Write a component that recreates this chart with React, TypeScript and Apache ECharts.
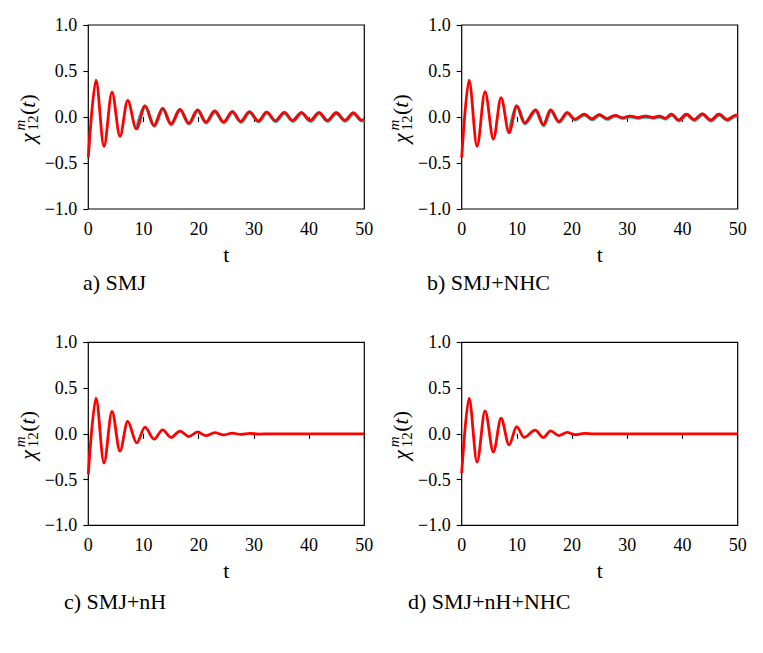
import React, { useEffect, useRef } from "react";
import * as echarts from "echarts";

// ---- data ----
const xTicks = [0, 10, 20, 30, 40, 50];
const yTicks = [-1, -0.5, 0, 0.5, 1];
const panelLabels = ["a) SMJ", "b) SMJ+NHC", "c) SMJ+nH", "d) SMJ+nH+NHC"];

// a) SMJ  (extrema of the curve)
const tA = [0, 1.39, 2.84, 4.29, 5.74, 7.13, 8.7, 10.27, 11.9, 13.47, 14.98, 16.6, 18.2, 19.8, 21.3, 22.9, 24.5, 26.1, 27.6, 29.2, 30.8, 32.3, 33.9, 35.5, 37.0, 38.6, 40.2, 41.8, 43.3, 44.9, 46.5, 48.0, 49.5, 50];
const yA = [-0.44, 0.4, -0.32, 0.27, -0.21, 0.18, -0.13, 0.12, -0.094, 0.094, -0.076, 0.083, -0.069, 0.076, -0.058, 0.065, -0.055, 0.058, -0.05, 0.055, -0.045, 0.052, -0.042, 0.05, -0.04, 0.048, -0.04, 0.048, -0.04, 0.046, -0.038, 0.045, -0.035, -0.028];

// b) SMJ+NHC
const tB = [0, 1.33, 2.78, 4.23, 5.74, 7.13, 8.57, 9.96, 11.4, 13.4, 14.8, 16.1, 17.6, 19.1, 20.5, 22.2, 23.6, 24.9, 26.3, 27.8, 29.1, 30.5, 31.9, 33.3, 34.7, 35.8, 36.9, 38.0, 39.3, 40.7, 42.1, 43.6, 45.1, 46.6, 48.1, 49.7, 50];
const yB = [-0.44, 0.4, -0.32, 0.275, -0.24, 0.21, -0.17, 0.12, -0.065, 0.076, -0.087, 0.076, -0.05, 0.047, -0.025, 0.03, -0.022, 0.025, -0.018, 0.018, -0.01, 0.01, -0.006, 0.008, -0.006, 0.008, -0.015, 0.03, -0.035, 0.03, -0.03, 0.035, -0.035, 0.03, -0.03, 0.02, 0.015];

// c) SMJ+nH
const tC = [0, 1.39, 2.84, 4.29, 5.74, 7.13, 8.76, 10.27, 11.9, 13.47, 14.98, 16.6, 18.2, 19.8, 21.3, 22.9, 24.5, 26.1, 27.6, 29.3, 30.8, 33.0, 50];
const yC = [-0.44, 0.39, -0.32, 0.245, -0.19, 0.135, -0.1, 0.073, -0.058, 0.042, -0.04, 0.03, -0.03, 0.02, -0.02, 0.012, -0.012, 0.008, -0.007, 0.004, -0.003, 0, 0];

// d) SMJ+nH+NHC
const tD = [0, 1.33, 2.78, 4.23, 5.74, 7.13, 8.57, 9.96, 11.3, 13.3, 14.8, 16.1, 17.6, 19.1, 20.5, 22.2, 24.0, 50];
const yD = [-0.43, 0.39, -0.31, 0.25, -0.2, 0.17, -0.12, 0.077, -0.04, 0.04, -0.04, 0.033, -0.02, 0.015, -0.01, 0.005, 0, 0];

const panelT = [tA, tB, tC, tD];
const panelY = [yA, yB, yC, yD];
const tealPanels = [0, 1];

const RED = "#ff0000";
const TEAL = "#19b5b5";
const SERIF = "Liberation Serif, DejaVu Serif, serif";

const gridBoxes = [
  { left: 88.3, top: 25, width: 276, height: 184 },
  { left: 461.7, top: 25, width: 276, height: 184 },
  { left: 88.3, top: 342.3, width: 276, height: 183 },
  { left: 461.7, top: 342.3, width: 276, height: 183 },
];

const labelPos = [
  [83, 282],
  [427, 282],
  [64, 601],
  [408, 601],
];

function fmtY(v: number) {
  const s = Math.abs(v).toFixed(1);
  return v < 0 ? "\u2212" + s : s;
}

function yLabel(cx: number, cy: number) {
  const base = { fill: "#000", fontFamily: SERIF, align: "left", textAlign: "left", verticalAlign: "middle", textVerticalAlign: "middle" };
  return {
    type: "group",
    x: cx,
    y: cy,
    rotation: Math.PI / 2,
    children: [
      { type: "text", x: -25, y: 0, style: { ...base, text: "\u03c7", fontSize: 22, fontStyle: "italic" } },
      { type: "text", x: -12.5, y: -7, style: { ...base, text: "m", fontSize: 15, fontStyle: "italic" } },
      { type: "text", x: -12.5, y: 6, style: { ...base, text: "12", fontSize: 15 } },
      {
        type: "text",
        x: 3,
        y: 0,
        style: {
          ...base,
          text: "{r|(}{i|t}{r|)}",
          rich: {
            r: { fontSize: 22, fontFamily: SERIF, fill: "#000" },
            i: { fontSize: 22, fontFamily: SERIF, fontStyle: "italic", fill: "#000" },
          },
        },
      },
    ],
  };
}

export default function App() {
  const ref = useRef<HTMLDivElement>(null);
  useEffect(() => {
    const chart = echarts.init(ref.current!, null, { renderer: "svg" });
    const grid = gridBoxes.map((g) => ({
      ...g,
      show: true,
      borderColor: "#000",
      borderWidth: 1.2,
      backgroundColor: "transparent",
      containLabel: false,
    }));
    const xAxis = gridBoxes.map((_, i) => ({
      type: "value",
      gridIndex: i,
      min: xTicks[0],
      max: xTicks[xTicks.length - 1],
      interval: xTicks[1] - xTicks[0],
      name: "t",
      nameLocation: "middle",
      nameGap: 34,
      nameTextStyle: { fontFamily: SERIF, fontSize: 22, color: "#000" },
      axisLine: { show: false },
      axisTick: { show: true, length: 5, lineStyle: { color: "#000", width: 1.1 } },
      axisLabel: { color: "#000", fontFamily: SERIF, fontSize: 18, margin: 11 },
      splitLine: { show: false },
    }));
    const yAxis = gridBoxes.map((_, i) => ({
      type: "value",
      gridIndex: i,
      min: yTicks[0],
      max: yTicks[yTicks.length - 1],
      interval: yTicks[1] - yTicks[0],
      axisLine: { show: false },
      axisTick: { show: true, length: 5, lineStyle: { color: "#000", width: 1.1 } },
      axisLabel: { color: "#000", fontFamily: SERIF, fontSize: 18, margin: 11, formatter: (v: number) => fmtY(v) },
      splitLine: { show: false },
    }));
    const series: any[] = [];
    panelT.forEach((ts, i) => {
      const data = ts.map((t, k) => [t, panelY[i][k]]);
      if (tealPanels.includes(i)) {
        series.push({
          type: "line",
          xAxisIndex: i,
          yAxisIndex: i,
          data: data.filter((p) => p[0] >= 8.5),
          showSymbol: false,
          smooth: 0.33,
          smoothMonotone: "x",
          lineStyle: { color: TEAL, width: 2.8, shadowColor: TEAL, shadowBlur: 0, shadowOffsetX: 0.5, shadowOffsetY: 0.8 },
          silent: true,
        });
      }
      series.push({
        type: "line",
        xAxisIndex: i,
        yAxisIndex: i,
        data,
        showSymbol: false,
        smooth: 0.33,
        smoothMonotone: "x",
        lineStyle: { color: RED, width: 2.8 },
        silent: true,
      });
    });
    const graphic: any[] = [];
    panelLabels.forEach((txt, i) => {
      graphic.push({
        type: "text",
        x: labelPos[i][0],
        y: labelPos[i][1],
        style: { text: txt, fill: "#000", fontFamily: SERIF, fontSize: 22, align: "left", textAlign: "left", verticalAlign: "middle", textVerticalAlign: "middle" },
      });
      const g = gridBoxes[i];
      graphic.push(yLabel(g.left - 61, g.top + g.height / 2 + 1));
    });
    chart.setOption({
      animation: false,
      backgroundColor: "#fff",
      textStyle: { fontFamily: SERIF },
      grid,
      xAxis,
      yAxis,
      series,
      graphic,
    });
    return () => chart.dispose();
  }, []);
  return (
    <div
      ref={ref}
      style={{ position: "fixed", left: 0, top: 0, width: 763, height: 653, background: "#fff" }}
    />
  );
}
